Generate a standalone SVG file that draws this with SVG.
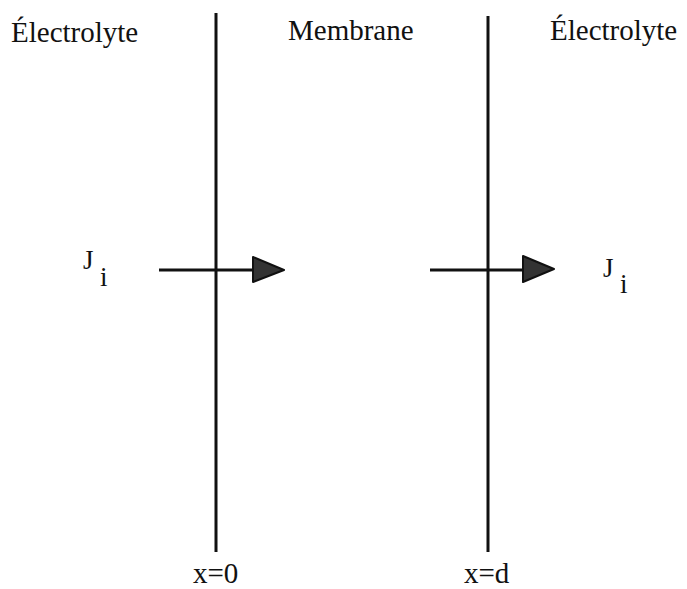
<svg xmlns="http://www.w3.org/2000/svg" width="687" height="589" viewBox="0 0 687 589">
<style>
text{font-family:"Liberation Serif","Times New Roman",serif;fill:#111;}
.lbl{font-size:29px;}
.j{font-size:27px;}
.ln{stroke:#111;stroke-width:3;fill:none;}
.head{fill:#333;stroke:#111;stroke-width:2;stroke-linejoin:round;}
</style>
<rect width="687" height="589" fill="#fff"/>
<g id="interface-left"><line class="ln" x1="216" y1="13" x2="216" y2="552"/></g>
<g id="interface-right"><line class="ln" x1="488" y1="16" x2="488" y2="552"/></g>
<g id="labels">
<text class="lbl" x="11" y="42">Électrolyte</text>
<text class="lbl" x="288" y="40">Membrane</text>
<text class="lbl" x="550" y="40">Électrolyte</text>
<text class="lbl" x="193" y="583">x=0</text>
<text class="lbl" x="464" y="583">x=d</text>
</g>
<g id="flux-left">
<text class="j" x="83" y="269">J</text>
<text class="j" x="100" y="286">i</text>
</g>
<g id="flux-right">
<text class="j" x="603" y="277">J</text>
<text class="j" x="620" y="293">i</text>
</g>
<g id="connectors">
<line class="ln" x1="159" y1="270" x2="254" y2="270"/>
<polygon class="head" points="253,257 284,270 253,282"/>
<line class="ln" x1="430" y1="270" x2="524" y2="270"/>
<polygon class="head" points="523,256 554,269 523,282"/>
</g>
</svg>
